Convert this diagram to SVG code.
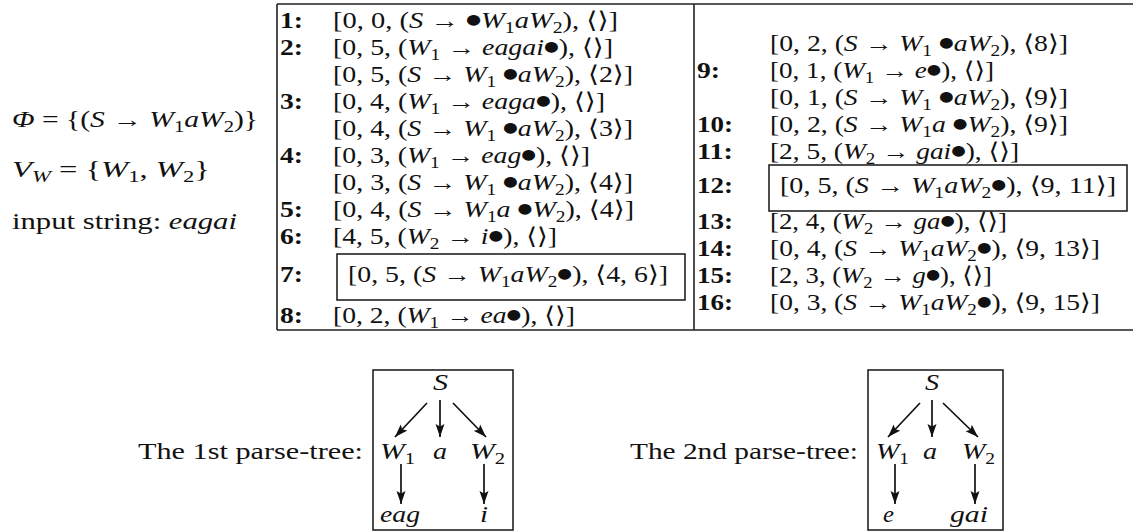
<svg xmlns="http://www.w3.org/2000/svg" width="1133" height="531" viewBox="0 0 1133 531">
<style>
.t{font-family:"Liberation Serif","DejaVu Serif",serif;font-size:23px;fill:#111}
.i{font-style:italic}
.s{font-size:16px}
.b{font-weight:bold}
.d{font-family:"DejaVu Sans",sans-serif;font-size:14px;baseline-shift:4px}
.ln{stroke:#222;stroke-width:1.6;fill:none}
.ar{stroke:#111;stroke-width:1.7;fill:none;marker-end:url(#ah)}
</style>
<defs>
<marker id="ah" markerUnits="userSpaceOnUse" viewBox="0 0 13 10" refX="13" refY="5" markerWidth="13" markerHeight="10" orient="auto">
<path d="M0,0.5 L13,5 L0,9.5 L2.5,5 z" fill="#111"/>
</marker>
</defs>
<rect width="1133" height="531" fill="#fff"/>

<g id="definitions">
<text class="t" x="12" y="127" textLength="246" lengthAdjust="spacingAndGlyphs"><tspan class="i">Φ</tspan> = {(<tspan class="i">S</tspan> → <tspan class="i">W</tspan><tspan class="s" dy="5">1</tspan><tspan class="i" dy="-5">aW</tspan><tspan class="s" dy="5">2</tspan><tspan dy="-5">)}</tspan></text>
<text class="t" x="12" y="177" textLength="198" lengthAdjust="spacingAndGlyphs"><tspan class="i">V</tspan><tspan class="s i" dy="5">W</tspan><tspan dy="-5"> = {</tspan><tspan class="i">W</tspan><tspan class="s" dy="5">1</tspan><tspan dy="-5">, </tspan><tspan class="i">W</tspan><tspan class="s" dy="5">2</tspan><tspan dy="-5">}</tspan></text>
<text class="t" x="12" y="229" textLength="225" lengthAdjust="spacingAndGlyphs">input string: <tspan class="i">eagai</tspan></text>
</g>

<g id="table">
<path class="ln" d="M277,4 H1133 M277,330 H1133 M277,4 V330 M694,4 V330"/>
<rect class="ln" x="337" y="254" width="348" height="46"/>
<rect class="ln" x="769" y="165" width="358" height="46"/>
</g>

<g id="left-column">
<text class="t b" x="280" y="28" textLength="23" lengthAdjust="spacingAndGlyphs">1:</text>
<text class="t b" x="280" y="55" textLength="23" lengthAdjust="spacingAndGlyphs">2:</text>
<text class="t b" x="280" y="109" textLength="23" lengthAdjust="spacingAndGlyphs">3:</text>
<text class="t b" x="280" y="163" textLength="23" lengthAdjust="spacingAndGlyphs">4:</text>
<text class="t b" x="280" y="217" textLength="23" lengthAdjust="spacingAndGlyphs">5:</text>
<text class="t b" x="280" y="244" textLength="23" lengthAdjust="spacingAndGlyphs">6:</text>
<text class="t b" x="280" y="282" textLength="23" lengthAdjust="spacingAndGlyphs">7:</text>
<text class="t b" x="280" y="323" textLength="23" lengthAdjust="spacingAndGlyphs">8:</text>

<text class="t" x="333" y="28" textLength="285" lengthAdjust="spacingAndGlyphs">[0, 0, (<tspan class="i">S</tspan> → <tspan class="d">●</tspan><tspan class="i">W</tspan><tspan class="s" dy="5">1</tspan><tspan class="i" dy="-5">aW</tspan><tspan class="s" dy="5">2</tspan><tspan dy="-5">), ⟨⟩]</tspan></text>
<text class="t" x="333" y="55" textLength="280" lengthAdjust="spacingAndGlyphs">[0, 5, (<tspan class="i">W</tspan><tspan class="s" dy="5">1</tspan><tspan dy="-5"> → </tspan><tspan class="i">eagai</tspan><tspan class="d">●</tspan>), ⟨⟩]</text>
<text class="t" x="333" y="82" textLength="300" lengthAdjust="spacingAndGlyphs">[0, 5, (<tspan class="i">S</tspan> → <tspan class="i">W</tspan><tspan class="s" dy="5">1</tspan><tspan dy="-5"> </tspan><tspan class="d">●</tspan><tspan class="i">aW</tspan><tspan class="s" dy="5">2</tspan><tspan dy="-5">), ⟨2⟩]</tspan></text>
<text class="t" x="333" y="109" textLength="272" lengthAdjust="spacingAndGlyphs">[0, 4, (<tspan class="i">W</tspan><tspan class="s" dy="5">1</tspan><tspan dy="-5"> → </tspan><tspan class="i">eaga</tspan><tspan class="d">●</tspan>), ⟨⟩]</text>
<text class="t" x="333" y="136" textLength="300" lengthAdjust="spacingAndGlyphs">[0, 4, (<tspan class="i">S</tspan> → <tspan class="i">W</tspan><tspan class="s" dy="5">1</tspan><tspan dy="-5"> </tspan><tspan class="d">●</tspan><tspan class="i">aW</tspan><tspan class="s" dy="5">2</tspan><tspan dy="-5">), ⟨3⟩]</tspan></text>
<text class="t" x="333" y="163" textLength="257" lengthAdjust="spacingAndGlyphs">[0, 3, (<tspan class="i">W</tspan><tspan class="s" dy="5">1</tspan><tspan dy="-5"> → </tspan><tspan class="i">eag</tspan><tspan class="d">●</tspan>), ⟨⟩]</text>
<text class="t" x="333" y="190" textLength="300" lengthAdjust="spacingAndGlyphs">[0, 3, (<tspan class="i">S</tspan> → <tspan class="i">W</tspan><tspan class="s" dy="5">1</tspan><tspan dy="-5"> </tspan><tspan class="d">●</tspan><tspan class="i">aW</tspan><tspan class="s" dy="5">2</tspan><tspan dy="-5">), ⟨4⟩]</tspan></text>
<text class="t" x="333" y="217" textLength="301" lengthAdjust="spacingAndGlyphs">[0, 4, (<tspan class="i">S</tspan> → <tspan class="i">W</tspan><tspan class="s" dy="5">1</tspan><tspan class="i" dy="-5">a</tspan> <tspan class="d">●</tspan><tspan class="i">W</tspan><tspan class="s" dy="5">2</tspan><tspan dy="-5">), ⟨4⟩]</tspan></text>
<text class="t" x="333" y="244" textLength="224" lengthAdjust="spacingAndGlyphs">[4, 5, (<tspan class="i">W</tspan><tspan class="s" dy="5">2</tspan><tspan dy="-5"> → </tspan><tspan class="i">i</tspan><tspan class="d">●</tspan>), ⟨⟩]</text>
<text class="t" x="348" y="282" textLength="320" lengthAdjust="spacingAndGlyphs">[0, 5, (<tspan class="i">S</tspan> → <tspan class="i">W</tspan><tspan class="s" dy="5">1</tspan><tspan class="i" dy="-5">aW</tspan><tspan class="s" dy="5">2</tspan><tspan class="d" dy="-5">●</tspan>), ⟨4, 6⟩]</text>
<text class="t" x="333" y="323" textLength="242" lengthAdjust="spacingAndGlyphs">[0, 2, (<tspan class="i">W</tspan><tspan class="s" dy="5">1</tspan><tspan dy="-5"> → </tspan><tspan class="i">ea</tspan><tspan class="d">●</tspan>), ⟨⟩]</text>
</g>

<g id="right-column">
<text class="t b" x="697" y="78" textLength="23" lengthAdjust="spacingAndGlyphs">9:</text>
<text class="t b" x="697" y="132" textLength="36" lengthAdjust="spacingAndGlyphs">10:</text>
<text class="t b" x="697" y="159" textLength="36" lengthAdjust="spacingAndGlyphs">11:</text>
<text class="t b" x="697" y="193" textLength="36" lengthAdjust="spacingAndGlyphs">12:</text>
<text class="t b" x="697" y="229" textLength="36" lengthAdjust="spacingAndGlyphs">13:</text>
<text class="t b" x="697" y="256" textLength="36" lengthAdjust="spacingAndGlyphs">14:</text>
<text class="t b" x="697" y="283" textLength="36" lengthAdjust="spacingAndGlyphs">15:</text>
<text class="t b" x="697" y="310" textLength="36" lengthAdjust="spacingAndGlyphs">16:</text>

<text class="t" x="770" y="51" textLength="298" lengthAdjust="spacingAndGlyphs">[0, 2, (<tspan class="i">S</tspan> → <tspan class="i">W</tspan><tspan class="s" dy="5">1</tspan><tspan dy="-5"> </tspan><tspan class="d">●</tspan><tspan class="i">aW</tspan><tspan class="s" dy="5">2</tspan><tspan dy="-5">), ⟨8⟩]</tspan></text>
<text class="t" x="770" y="78" textLength="224" lengthAdjust="spacingAndGlyphs">[0, 1, (<tspan class="i">W</tspan><tspan class="s" dy="5">1</tspan><tspan dy="-5"> → </tspan><tspan class="i">e</tspan><tspan class="d">●</tspan>), ⟨⟩]</text>
<text class="t" x="770" y="105" textLength="298" lengthAdjust="spacingAndGlyphs">[0, 1, (<tspan class="i">S</tspan> → <tspan class="i">W</tspan><tspan class="s" dy="5">1</tspan><tspan dy="-5"> </tspan><tspan class="d">●</tspan><tspan class="i">aW</tspan><tspan class="s" dy="5">2</tspan><tspan dy="-5">), ⟨9⟩]</tspan></text>
<text class="t" x="770" y="132" textLength="298" lengthAdjust="spacingAndGlyphs">[0, 2, (<tspan class="i">S</tspan> → <tspan class="i">W</tspan><tspan class="s" dy="5">1</tspan><tspan class="i" dy="-5">a</tspan> <tspan class="d">●</tspan><tspan class="i">W</tspan><tspan class="s" dy="5">2</tspan><tspan dy="-5">), ⟨9⟩]</tspan></text>
<text class="t" x="770" y="159" textLength="249" lengthAdjust="spacingAndGlyphs">[2, 5, (<tspan class="i">W</tspan><tspan class="s" dy="5">2</tspan><tspan dy="-5"> → </tspan><tspan class="i">gai</tspan><tspan class="d">●</tspan>), ⟨⟩]</text>
<text class="t" x="780" y="193" textLength="336" lengthAdjust="spacingAndGlyphs">[0, 5, (<tspan class="i">S</tspan> → <tspan class="i">W</tspan><tspan class="s" dy="5">1</tspan><tspan class="i" dy="-5">aW</tspan><tspan class="s" dy="5">2</tspan><tspan class="d" dy="-5">●</tspan>), ⟨9, 11⟩]</text>
<text class="t" x="770" y="229" textLength="237" lengthAdjust="spacingAndGlyphs">[2, 4, (<tspan class="i">W</tspan><tspan class="s" dy="5">2</tspan><tspan dy="-5"> → </tspan><tspan class="i">ga</tspan><tspan class="d">●</tspan>), ⟨⟩]</text>
<text class="t" x="770" y="256" textLength="330" lengthAdjust="spacingAndGlyphs">[0, 4, (<tspan class="i">S</tspan> → <tspan class="i">W</tspan><tspan class="s" dy="5">1</tspan><tspan class="i" dy="-5">aW</tspan><tspan class="s" dy="5">2</tspan><tspan class="d" dy="-5">●</tspan>), ⟨9, 13⟩]</text>
<text class="t" x="770" y="283" textLength="222" lengthAdjust="spacingAndGlyphs">[2, 3, (<tspan class="i">W</tspan><tspan class="s" dy="5">2</tspan><tspan dy="-5"> → </tspan><tspan class="i">g</tspan><tspan class="d">●</tspan>), ⟨⟩]</text>
<text class="t" x="770" y="310" textLength="330" lengthAdjust="spacingAndGlyphs">[0, 3, (<tspan class="i">S</tspan> → <tspan class="i">W</tspan><tspan class="s" dy="5">1</tspan><tspan class="i" dy="-5">aW</tspan><tspan class="s" dy="5">2</tspan><tspan class="d" dy="-5">●</tspan>), ⟨9, 15⟩]</text>
</g>

<g id="tree1">
<text class="t" x="138" y="459" textLength="225" lengthAdjust="spacingAndGlyphs">The 1st parse-tree:</text>
<rect class="ln" x="373" y="370" width="140" height="160"/>
<g id="tree1-S"><text class="t i" x="433" y="390" textLength="15" lengthAdjust="spacingAndGlyphs">S</text></g>
<g id="tree1-W1"><text class="t" x="380" y="459" textLength="35" lengthAdjust="spacingAndGlyphs"><tspan class="i">W</tspan><tspan class="s" dy="5">1</tspan></text></g>
<g id="tree1-a"><text class="t i" x="433" y="459" textLength="14" lengthAdjust="spacingAndGlyphs">a</text></g>
<g id="tree1-W2"><text class="t" x="470" y="459" textLength="35" lengthAdjust="spacingAndGlyphs"><tspan class="i">W</tspan><tspan class="s" dy="5">2</tspan></text></g>
<g id="tree1-eag"><text class="t i" x="380" y="522" textLength="40" lengthAdjust="spacingAndGlyphs">eag</text></g>
<g id="tree1-i"><text class="t i" x="480" y="522" textLength="8" lengthAdjust="spacingAndGlyphs">i</text></g>
</g>

<g id="tree2">
<text class="t" x="630" y="459" textLength="228" lengthAdjust="spacingAndGlyphs">The 2nd parse-tree:</text>
<rect class="ln" x="868" y="370" width="135" height="160"/>
<g id="tree2-S"><text class="t i" x="925" y="390" textLength="14" lengthAdjust="spacingAndGlyphs">S</text></g>
<g id="tree2-W1"><text class="t" x="876" y="459" textLength="33" lengthAdjust="spacingAndGlyphs"><tspan class="i">W</tspan><tspan class="s" dy="5">1</tspan></text></g>
<g id="tree2-a"><text class="t i" x="923" y="459" textLength="14" lengthAdjust="spacingAndGlyphs">a</text></g>
<g id="tree2-W2"><text class="t" x="962" y="459" textLength="33" lengthAdjust="spacingAndGlyphs"><tspan class="i">W</tspan><tspan class="s" dy="5">2</tspan></text></g>
<g id="tree2-e"><text class="t i" x="883" y="522" textLength="11" lengthAdjust="spacingAndGlyphs">e</text></g>
<g id="tree2-gai"><text class="t i" x="950" y="522" textLength="38" lengthAdjust="spacingAndGlyphs">gai</text></g>
</g>

<g id="connectors">
<line class="ar" x1="427" y1="403" x2="395" y2="437"/>
<line class="ar" x1="440" y1="400" x2="440" y2="437"/>
<line class="ar" x1="453" y1="403" x2="486" y2="437"/>
<line class="ar" x1="401" y1="464" x2="401" y2="504"/>
<line class="ar" x1="484" y1="464" x2="484" y2="504"/>
<line class="ar" x1="920" y1="403" x2="888" y2="437"/>
<line class="ar" x1="932" y1="400" x2="932" y2="437"/>
<line class="ar" x1="943" y1="403" x2="978" y2="437"/>
<line class="ar" x1="895" y1="464" x2="895" y2="504"/>
<line class="ar" x1="975" y1="464" x2="975" y2="504"/>
</g>
</svg>
